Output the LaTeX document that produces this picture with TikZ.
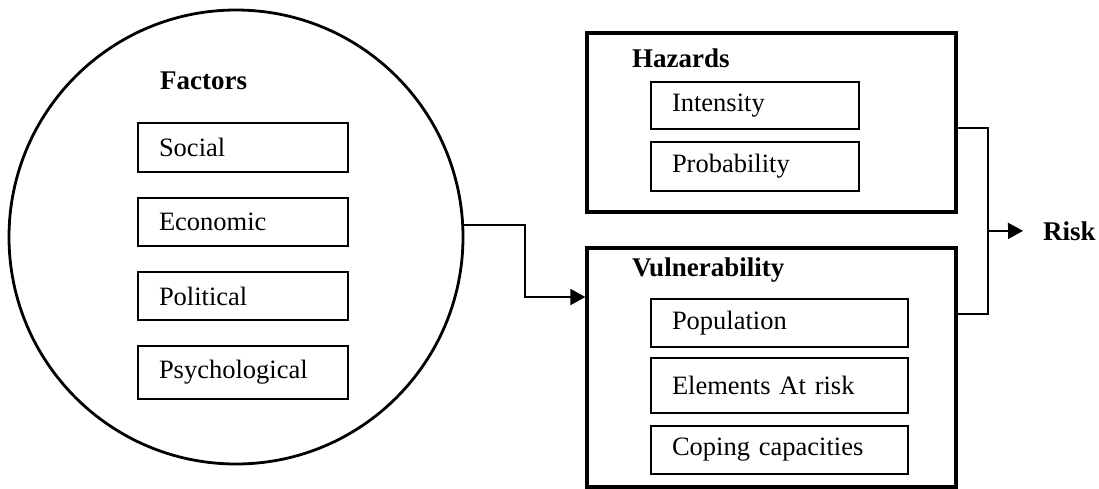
\documentclass[tikz,border=0pt]{standalone}
\usepackage{fontspec}
\setmainfont{Liberation Serif}
\usetikzlibrary{shapes.geometric, arrows.meta, positioning}

\begin{document}
\begin{tikzpicture}[x=1pt, y=-1pt,
    font=\fontsize{26.5}{30}\selectfont,
    groupbox/.style={rectangle, draw, line width=3.2pt, inner sep=0pt},
    itembox/.style={rectangle, draw, line width=2pt, inner xsep=21pt, inner ysep=0pt, align=left},
    title/.style={font=\fontsize{27}{32}\selectfont\bfseries, anchor=base west, inner sep=0pt},
    arrow/.style={-{Triangle[length=15pt, width=16pt]}, line width=1.8pt}
]
\useasboundingbox (0,0) rectangle (1099,488);

% Factors circle
\node[circle, draw, line width=2.8pt, minimum size=454pt] (factors) at (236,237) {};
\node[title] (factorstitle) at (160,89) {Factors};

% Factor items
\node[itembox, text width=168pt, minimum height=49pt] (social) at (243,147.5) {Social};
\node[itembox, text width=168pt, minimum height=48pt, below=24pt of social] (economic) {Economic};
\node[itembox, text width=168pt, minimum height=48pt, below=24pt of economic] (political) {Political};
\node[itembox, text width=168pt, minimum height=53pt, below=24pt of political] (psychological) {Psychological};

% Hazards
\node[groupbox, minimum width=369pt, minimum height=179pt] (hazards) at (771.5,122.5) {};
\node[title] (hazardstitle) at (632,67) {Hazards};
\node[itembox, text width=166pt, minimum height=47pt] (intensity) at (755,105.5) {Intensity};
\node[itembox, text width=166pt, minimum height=49pt, below=11pt of intensity] (probability) {Probability};

% Vulnerability
\node[groupbox, minimum width=369pt, minimum height=239pt] (vuln) at (771.5,367.5) {};
\node[title] (vulntitle) at (632,276) {Vulnerability};
\node[itembox, text width=215pt, minimum height=48pt] (population) at (779.5,323) {Population};
\node[itembox, text width=215pt, minimum height=55pt, below=9pt of population] (elements) {Elements At risk};
\node[itembox, text width=215pt, minimum height=48pt, below=11pt of elements] (coping) {Coping capacities};

% Risk
\node[title] (risk) at (1043,240) {Risk};
\coordinate (join) at (988,231);

% Arrows
\draw[arrow] (factors.3) -- ++(61,0) |- ([yshift=70.5pt]vuln.west);
\draw[line width=1.8pt] ([yshift=-5.5pt]hazards.east) -| (join) |- ([yshift=53.5pt]vuln.east);
\draw[arrow, shorten >=20pt] (join) -- (risk.west);

\end{tikzpicture}
\end{document}
